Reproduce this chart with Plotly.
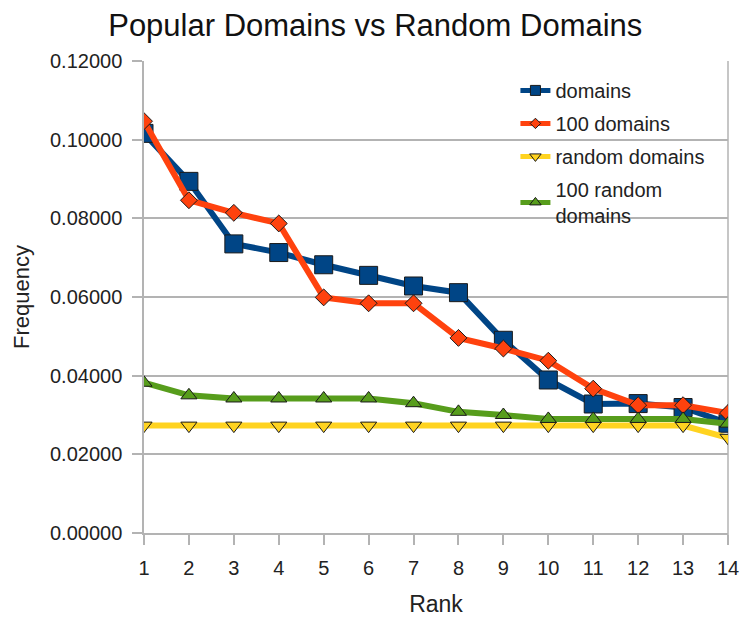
import plotly.graph_objects as go

ranks = list(range(1, 15))
domains = [0.1016, 0.0894, 0.0735, 0.0713, 0.0682, 0.0655, 0.0628, 0.0611, 0.0490, 0.0389,
           0.0328, 0.0329, 0.0319, 0.0279]
domains_100 = [0.1047, 0.0846, 0.0814, 0.0787, 0.0599, 0.0584, 0.0584, 0.0496, 0.0469, 0.0438,
               0.0367, 0.0325, 0.0325, 0.0305]
random_domains = [0.0273, 0.0273, 0.0273, 0.0273, 0.0273, 0.0273, 0.0273, 0.0273, 0.0273, 0.0273,
                  0.0273, 0.0273, 0.0273, 0.0242]
random_100 = [0.0382, 0.0350, 0.0342, 0.0342, 0.0342, 0.0342, 0.0330, 0.0308, 0.0300, 0.0290,
              0.0290, 0.0290, 0.0290, 0.0278]

series = [
    ("domains", domains, "#004586", "square", 18, 10),
    ("100 domains", domains_100, "#ff420e", "diamond", 13, 8),
    ("random domains", random_domains, "#ffd320", "triangle-down", 14, 10),
    ("100 random<br>domains", random_100, "#579d1c", "triangle-up", 14, 10),
]

fig = go.Figure()
for i, (name, vals, color, sym, size, lsize) in enumerate(series):
    fig.add_trace(go.Scatter(
        x=ranks, y=vals, name=name, mode="lines+markers", showlegend=False,
        legendgroup=f"g{i}",
        line=dict(color=color, width=6),
        marker=dict(symbol=sym, size=size, color=color, line=dict(color="#1a1a1a", width=1)),
    ))
    # legend entry with smaller symbol, like the reference
    fig.add_trace(go.Scatter(
        x=[None], y=[None], name=name, mode="lines+markers", showlegend=True,
        legendgroup=f"g{i}",
        line=dict(color=color, width=5),
        marker=dict(symbol=sym, size=lsize, color=color, line=dict(color="#1a1a1a", width=1)),
    ))

fig.update_layout(
    width=748, height=617,
    paper_bgcolor="white", plot_bgcolor="white",
    font=dict(family="Liberation Sans, Arial, sans-serif", color="#222"),
    title=dict(text="Popular Domains vs Random Domains", x=0.491, xanchor="center",
               y=0.972, yanchor="middle", font=dict(size=31, color="#111")),
    margin=dict(l=136, r=28, t=53, b=76),
    showlegend=True,
    legend=dict(x=0.636, y=0.979, xanchor="left", yanchor="top", bgcolor="rgba(0,0,0,0)",
                font=dict(size=20, color="#222"), tracegroupgap=4,
                traceorder="grouped"),
    xaxis=dict(range=[1, 14], tickmode="array", tickvals=ranks, showgrid=False,
               showline=True, linecolor="#b3b3b3", linewidth=1.5, mirror=False,
               ticks="outside", ticklen=10, tickcolor="#b3b3b3", tickwidth=1.5,
               tickfont=dict(size=20), zeroline=False, ticklabelstandoff=6,
               title=dict(text="Rank", font=dict(size=23), standoff=18)),
    yaxis=dict(range=[0, 0.12], dtick=0.02, tickformat=".5f", showgrid=True,
               gridcolor="#b3b3b3", gridwidth=1.5, showline=True, linecolor="#b3b3b3",
               linewidth=1.5, ticks="outside", ticklen=10, tickcolor="#b3b3b3", tickwidth=1.5,
               tickfont=dict(size=20), zeroline=False, ticklabelstandoff=6,
               title=dict(text="Frequency", font=dict(size=22), standoff=14)),
)
fig.add_shape(type="line", xref="paper", yref="paper", x0=1, x1=1, y0=-0.02, y1=1,
              line=dict(color="#b3b3b3", width=1.5), layer="below")

fig.write_html("out.html")
